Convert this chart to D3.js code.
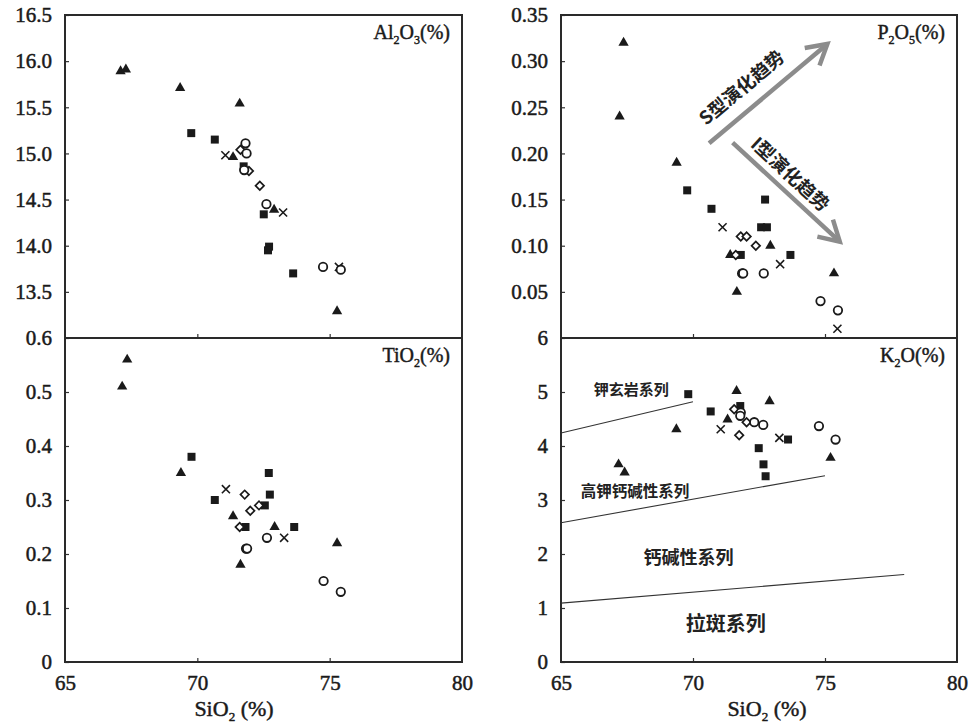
<!DOCTYPE html>
<html><head><meta charset="utf-8">
<script src="https://cdn.jsdelivr.net/npm/d3@7"></script>
<style>body{margin:0;background:#fff}</style>
</head><body><svg id="c" width="970" height="724" xmlns="http://www.w3.org/2000/svg"></svg>
<script>
// ---------- tick values ----------
const xTickLabels = [65, 70, 75, 80];
const xTickInner = [70, 75];
const alTicks = [13.5, 14.0, 14.5, 15.0, 15.5, 16.0, 16.5];
const pTicks = [0.05, 0.10, 0.15, 0.20, 0.25, 0.30, 0.35];
const tiTicks = [0, 0.1, 0.2, 0.3, 0.4, 0.5, 0.6];
const kTicks = [0, 1, 2, 3, 4, 5, 6];

// ---------- data: [SiO2, oxide] ----------
const alTri = [[67.1,15.89],[67.3,15.91],[69.35,15.71],[71.6,15.54],[71.35,14.96],[72.9,14.39],[75.28,13.29]];
const alSq  = [[69.77,15.22],[70.66,15.15],[71.75,14.86],[72.51,14.34],[72.71,13.99],[72.67,13.95],[73.62,13.70]];
const alX   = [[71.06,14.98],[73.24,14.36],[75.35,13.77]];
const alDia = [[71.63,15.04],[71.95,14.81],[72.36,14.65]];
const alCir = [[71.82,15.11],[71.86,15.0],[71.77,14.82],[72.61,14.45],[74.75,13.77],[75.42,13.74]];

const pTri = [[67.37,0.32],[67.22,0.24],[69.38,0.19],[71.41,0.09],[71.66,0.05],[72.93,0.10],[75.34,0.07]];
const pSq  = [[69.78,0.16],[70.70,0.14],[72.73,0.15],[72.58,0.12],[72.80,0.12],[71.81,0.09],[73.69,0.09]];
const pX   = [[71.12,0.12],[73.3,0.08],[75.47,0.01]];
const pDia = [[71.81,0.11],[72.03,0.11],[72.38,0.10],[71.62,0.09]];
const pCir = [[71.86,0.07],[71.9,0.07],[72.68,0.07],[74.83,0.04],[75.49,0.03]];

const tiTri = [[67.16,0.51],[67.35,0.56],[69.38,0.35],[71.35,0.27],[71.63,0.18],[72.92,0.25],[75.28,0.22]];
const tiSq  = [[69.78,0.38],[70.66,0.30],[72.7,0.35],[72.74,0.31],[72.55,0.29],[71.82,0.25],[73.66,0.25]];
const tiX   = [[71.08,0.32],[73.28,0.23]];
const tiDia = [[71.79,0.31],[72.0,0.28],[72.33,0.29],[71.6,0.25]];
const tiCir = [[71.84,0.21],[71.88,0.21],[72.63,0.23],[74.77,0.15],[75.42,0.13]];

const kTri = [[67.18,3.66],[67.41,3.51],[69.37,4.31],[71.31,4.49],[71.65,5.02],[72.9,4.83],[75.21,3.78]];
const kSq  = [[69.82,4.96],[70.67,4.64],[71.79,4.74],[72.49,3.96],[72.67,3.66],[72.75,3.44],[73.6,4.12]];
const kX   = [[71.05,4.31],[73.27,4.15]];
const kDia = [[71.56,4.68],[72.03,4.44],[71.75,4.20]];
const kCir = [[71.81,4.62],[71.79,4.56],[72.32,4.44],[72.66,4.39],[74.77,4.37],[75.4,4.12]];

// K2O series boundary lines
const kLines = [
  [[65,4.24],[70,4.82]],
  [[65,2.58],[75,3.45]],
  [[65,1.09],[78,1.62]]
];
const kZoneNames = ["钾玄岩系列","高钾钙碱性系列","钙碱性系列","拉斑系列"];
const kZonePos = [[67.66,5.07],[67.8,3.19],[69.83,1.96],[71.24,0.74]];

// P2O5 trend arrows [start, tip] and their labels [SiO2, P2O5]
const trendNames = ["S型演化趋势","I型演化趋势"];
const trendArrows = [
  [[70.61,0.211],[75.09,0.3186]],
  [[71.5,0.2117],[75.56,0.1044]]
];
const trendLabelPos = [[71.81,0.2725],[73.72,0.1785]];

// ---------- drawing ----------
const svg = d3.select("#c");
const SERIF = "'Liberation Serif','Times New Roman',serif";
const CJK = "'Noto Sans CJK SC','Noto Sans CJK JP',sans-serif";
const INK = "#1a1a1a";

function thick(sel, w) { return sel.attr("stroke", INK).attr("stroke-width", w).attr("paint-order", "stroke"); }

const panels = [
  {name:["Al","2","O","3","(%)"], xr:[65,462], yr:[338,15], dom:[13,16.5], ticks:alTicks, fmt:d3.format(".1f"), bottom:false,
   series:[alTri,alSq,alX,alDia,alCir]},
  {name:["P","2","O","5","(%)"], xr:[561,957], yr:[338,15], dom:[0,0.35], ticks:pTicks, fmt:d3.format(".2f"), bottom:false,
   series:[pTri,pSq,pX,pDia,pCir]},
  {name:["TiO","2","(%)"], xr:[65,462], yr:[662,338], dom:[0,0.6], ticks:tiTicks, fmt:d=>d===0?"0":d3.format(".1f")(d), bottom:true,
   series:[tiTri,tiSq,tiX,tiDia,tiCir]},
  {name:["K","2","O(%)"], xr:[561,957], yr:[662,338], dom:[0,6], ticks:kTicks, fmt:d3.format("d"), bottom:true,
   series:[kTri,kSq,kX,kDia,kCir]}
];

const symGen = [
  {sym:d3.symbol(d3.symbolTriangle, 46), fill:INK, stroke:"none", rot:0, sw:0},
  {sym:d3.symbol(d3.symbolSquare, 64), fill:INK, stroke:"none", rot:0, sw:0},
  {sym:d3.symbol(d3.symbolX, 44), fill:"none", stroke:INK, rot:0, sw:1.6},
  {sym:d3.symbol(d3.symbolSquare, 36), fill:"#fff", stroke:INK, rot:45, sw:1.7},
  {sym:d3.symbol(d3.symbolCircle, 56), fill:"#fff", stroke:INK, rot:0, sw:1.8}
];

panels.forEach((p,i) => {
  const x = d3.scaleLinear([65,80], p.xr);
  const y = d3.scaleLinear(p.dom, p.yr);
  p.x = x; p.y = y;
  const g = svg.append("g");

  // y axis
  const ya = g.append("g").attr("transform", `translate(${p.xr[0]},0)`)
    .call(d3.axisLeft(y).tickValues(p.ticks).tickFormat(p.fmt).tickSizeInner(-4).tickSizeOuter(0).tickPadding(13));
  ya.select(".domain").remove();
  ya.selectAll("line").attr("stroke", "#333").attr("stroke-width", 1.2);
  thick(ya.selectAll("text").attr("font-family", SERIF).attr("font-size", 21).attr("fill", INK), 0.5);

  // x axis
  const xa = g.append("g").attr("transform", `translate(0,${p.yr[0]})`);
  if (p.bottom) {
    xa.call(d3.axisBottom(x).tickValues(xTickLabels).tickSizeInner(-4).tickSizeOuter(0).tickPadding(13));
    xa.selectAll(".tick").filter(d => !xTickInner.includes(d)).select("line").remove();
  } else {
    xa.call(d3.axisBottom(x).tickValues(xTickInner).tickFormat("").tickSizeInner(-4).tickSizeOuter(0));
  }
  xa.select(".domain").remove();
  xa.selectAll("line").attr("stroke", "#333").attr("stroke-width", 1.2);
  thick(xa.selectAll("text").attr("font-family", SERIF).attr("font-size", 21).attr("fill", INK), 0.5);

  // frame
  g.append("rect").attr("x", p.xr[0]).attr("y", p.yr[1])
    .attr("width", p.xr[1]-p.xr[0]).attr("height", p.yr[0]-p.yr[1])
    .attr("fill", "none").attr("stroke", "#2a2a2a").attr("stroke-width", 2);

  // panel label
  const lbl = g.append("text").attr("x", p.xr[1]-12).attr("y", p.yr[1]+24)
    .attr("text-anchor", "end").attr("font-family", SERIF).attr("font-size", 20).attr("fill", INK);
  thick(lbl, 0.45);
  p.name.forEach((s, k) => {
    const isSub = /^\d$/.test(s);
    const t = lbl.append("tspan").text(s);
    if (isSub) t.attr("font-size", 12).attr("dy", 5);
    else if (k>0 && /^\d$/.test(p.name[k-1])) t.attr("dy", -5);
  });

  p.g = g;
});

// K2O boundary lines and zone names
{
  const p = panels[3];
  const line = d3.line().x(d => p.x(d[0])).y(d => p.y(d[1]));
  p.g.selectAll(".bl").data(kLines).join("path").attr("d", line)
    .attr("fill", "none").attr("stroke", "#333").attr("stroke-width", 1.1);
  const sizes = [15, 15.5, 18, 20];
  p.g.selectAll(".zn").data(kZoneNames).join("text")
    .attr("x", (d,i) => p.x(kZonePos[i][0])).attr("y", (d,i) => p.y(kZonePos[i][1]))
    .attr("text-anchor", "middle").attr("dominant-baseline", "central")
    .attr("font-family", CJK).attr("font-weight", "bold").attr("font-size", (d,i) => sizes[i])
    .attr("fill", "#222").text(d => d);
}

// P2O5 trend arrows
{
  const p = panels[1];
  const ag = p.g.append("g");
  trendArrows.forEach((a, i) => {
    const x0 = p.x(a[0][0]), y0 = p.y(a[0][1]), x1 = p.x(a[1][0]), y1 = p.y(a[1][1]);
    const ang = Math.atan2(y1 - y0, x1 - x0);
    const back = ang + Math.PI, L = 23, spread = Math.PI/6;
    ag.append("path").attr("d", `M${x0},${y0}L${x1},${y1}`)
      .attr("stroke", "#8c8c8c").attr("stroke-width", 4.5).attr("fill", "none");
    ag.append("path")
      .attr("d", `M${x1 + L*Math.cos(back+spread)},${y1 + L*Math.sin(back+spread)}L${x1},${y1}L${x1 + L*Math.cos(back-spread)},${y1 + L*Math.sin(back-spread)}`)
      .attr("stroke", "#8c8c8c").attr("stroke-width", 4.5).attr("fill", "none").attr("stroke-linejoin", "miter");
    const deg = ang * 180/Math.PI;
    const lx = p.x(trendLabelPos[i][0]), ly = p.y(trendLabelPos[i][1]);
    ag.append("text")
      .attr("transform", `translate(${lx},${ly}) rotate(${deg})`)
      .attr("text-anchor", "middle").attr("dominant-baseline", "central")
      .attr("font-family", CJK).attr("font-weight", "bold").attr("font-size", 18.5).attr("fill", "#222")
      .text(trendNames[i]);
  });
}

// points
panels.forEach(p => {
  p.series.forEach((data, si) => {
    const s = symGen[si];
    p.g.append("g").selectAll("path").data(data).join("path")
      .attr("d", s.sym)
      .attr("transform", d => `translate(${p.x(d[0])},${p.y(d[1])}) rotate(${s.rot})`)
      .attr("fill", s.fill).attr("stroke", s.stroke).attr("stroke-width", s.sw);
  });
});

// x titles
[[panels[2], 234], [panels[3], 767]].forEach(([p, cx]) => {
  const t = svg.append("text").attr("x", cx).attr("y", 716).attr("text-anchor", "middle")
    .attr("font-family", SERIF).attr("font-size", 22).attr("fill", INK);
  thick(t, 0.45);
  t.append("tspan").text("SiO");
  t.append("tspan").text("2").attr("font-size", 13).attr("dy", 5);
  t.append("tspan").text(" (%)").attr("dy", -5);
});
</script></body></html>
